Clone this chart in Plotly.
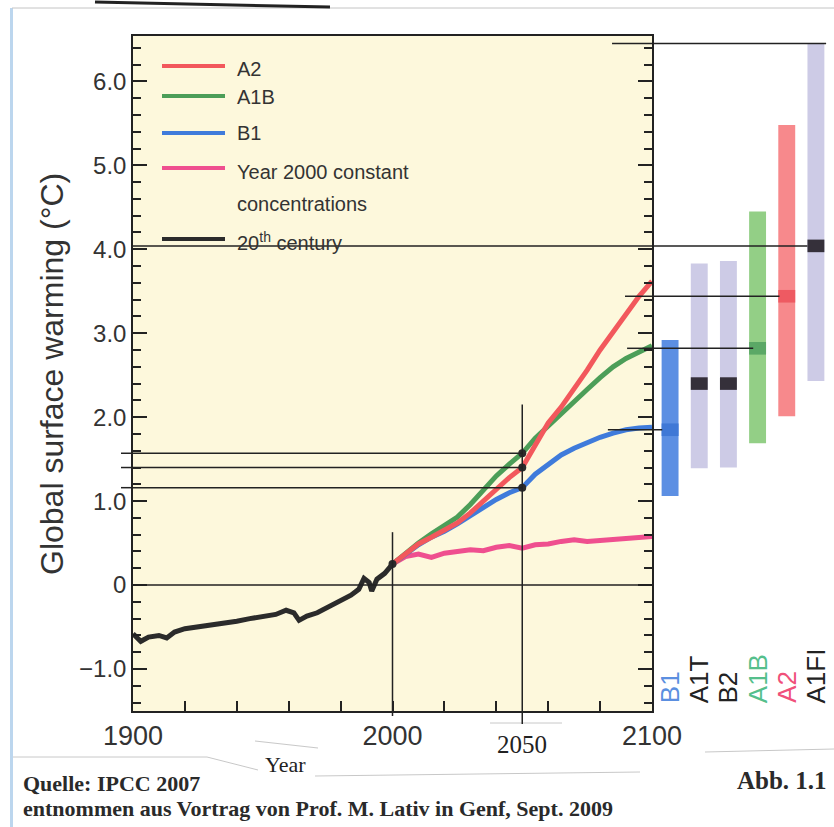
import plotly.graph_objects as go

# ---------------- data ----------------
years_20c = [1900, 1903, 1906, 1910, 1913, 1916, 1920, 1925, 1930, 1935, 1940, 1945,
             1950, 1955, 1959, 1962, 1964, 1967, 1971, 1975, 1978, 1981, 1984, 1987,
             1989, 1991, 1992, 1994, 1997, 2000]
temp_20c = [-0.58, -0.67, -0.62, -0.60, -0.63, -0.56, -0.52, -0.50, -0.47, -0.45, -0.43, -0.40,
            -0.37, -0.35, -0.30, -0.33, -0.42, -0.37, -0.33, -0.27, -0.22, -0.17, -0.12, -0.05,
            0.08, 0.03, -0.07, 0.07, 0.14, 0.25]

years_proj = [2000, 2005, 2010, 2015, 2020, 2025, 2030, 2035, 2040, 2045, 2050,
              2055, 2060, 2065, 2070, 2075, 2080, 2085, 2090, 2095, 2100]
a2 = [0.25, 0.37, 0.49, 0.57, 0.65, 0.74, 0.86, 1.00, 1.15, 1.28, 1.40,
      1.68, 1.93, 2.12, 2.33, 2.56, 2.80, 3.02, 3.24, 3.44, 3.62]
a1b = [0.25, 0.38, 0.50, 0.61, 0.71, 0.81, 0.96, 1.13, 1.30, 1.44, 1.57,
       1.75, 1.90, 2.05, 2.19, 2.33, 2.47, 2.60, 2.70, 2.78, 2.85]
b1 = [0.25, 0.37, 0.48, 0.57, 0.64, 0.73, 0.83, 0.92, 1.02, 1.10, 1.16,
      1.32, 1.44, 1.55, 1.63, 1.70, 1.76, 1.81, 1.85, 1.87, 1.88]
const2000 = [0.25, 0.34, 0.37, 0.33, 0.38, 0.40, 0.42, 0.41, 0.45, 0.47, 0.44,
             0.48, 0.49, 0.52, 0.54, 0.52, 0.53, 0.55, 0.56, 0.57, 0.58]

scenarios = ["B1", "A1T", "B2", "A1B", "A2", "A1FI"]
low = [1.06, 1.39, 1.40, 1.69, 2.01, 2.43]
best = [1.85, 2.40, 2.40, 2.82, 3.44, 4.04]
high = [2.92, 3.83, 3.86, 4.45, 5.48, 6.45]

y_tickvals = [-1, 0, 1, 2, 3, 4, 5, 6]
y_ticktext = ["\u22121.0", "0", "1.0", "2.0", "3.0", "4.0", "5.0", "6.0"]
x_tickvals = [1900, 2000, 2100]
x_ticktext = ["1900", "2000", "2100"]

# ---------------- layout helpers ----------------
W, H = 834, 827
PX_L, PX_R, PY_T, PY_B = 133, 652, 36, 711


def px(x):
    return x / W


def py(y):
    return 1 - y / H


SANS = "Liberation Sans, Arial, sans-serif"
SERIF = "Liberation Serif, Times New Roman, serif"

C_RED = "#f2585c"
C_GREEN = "#4c9e58"
C_BLUE = "#3f7bdb"
C_PINK = "#ef4f8f"
C_BLACK = "#2b2b2b"
CREAM = "#fdf8dc"

fig = go.Figure()

fig.add_trace(go.Scatter(x=years_proj, y=const2000, mode="lines",
                         line=dict(color=C_PINK, width=5), showlegend=False))
fig.add_trace(go.Scatter(x=years_proj, y=b1, mode="lines",
                         line=dict(color=C_BLUE, width=5), showlegend=False))
fig.add_trace(go.Scatter(x=years_proj, y=a1b, mode="lines",
                         line=dict(color=C_GREEN, width=5), showlegend=False))
fig.add_trace(go.Scatter(x=years_proj, y=a2, mode="lines",
                         line=dict(color=C_RED, width=5), showlegend=False))
fig.add_trace(go.Scatter(x=years_20c, y=temp_20c, mode="lines",
                         line=dict(color=C_BLACK, width=5), showlegend=False))

i2050 = years_proj.index(2050)
dot_x = [2000, 2050, 2050, 2050]
dot_y = [temp_20c[-1], a1b[i2050], a2[i2050], b1[i2050]]
fig.add_trace(go.Scatter(x=dot_x, y=dot_y, mode="markers",
                         marker=dict(color=C_BLACK, size=8), showlegend=False))

bar_colors = ["#5c8fe3", "#cdcbe6", "#cdcbe6", "#93cf86", "#f7898c", "#cdcbe6"]
mark_colors = ["#3f78d6", "#35303a", "#35303a", "#5ba866", "#ee5a62", "#35303a"]
fig.add_trace(go.Bar(x=scenarios, y=[h - l for h, l in zip(high, low)], base=low,
                     xaxis="x2", yaxis="y", width=0.58,
                     marker=dict(color=bar_colors, line=dict(width=0)), showlegend=False))
fig.add_trace(go.Bar(x=scenarios, y=[0.15] * len(best), base=[b - 0.075 for b in best],
                     xaxis="x2", yaxis="y", width=0.58,
                     marker=dict(color=mark_colors, line=dict(width=0)), showlegend=False))

shapes = []
shapes.append(dict(type="rect", xref="x domain", yref="y domain", x0=0, x1=1, y0=0, y1=1,
                   fillcolor=CREAM, line=dict(width=0), layer="below"))

LINE = dict(color="#222222", width=1.5)

shapes.append(dict(type="line", xref="x", yref="y", x0=1900, x1=2100, y0=0, y1=0, line=LINE))
shapes.append(dict(type="line", xref="x", yref="y", x0=2000, x1=2000, y0=-1.6, y1=0.63, line=LINE))
shapes.append(dict(type="line", xref="x", yref="y", x0=2050, x1=2050, y0=-1.6, y1=2.15, line=LINE))
shapes.append(dict(type="line", xref="x", yref="paper", x0=2050, x1=2050,
                   y0=py(PY_B), y1=py(PY_B + 13), line=LINE))
shapes.append(dict(type="line", xref="x", yref="paper", x0=2000, x1=2000,
                   y0=py(PY_B), y1=py(PY_B + 5), line=LINE))
for v in dot_y[1:]:
    shapes.append(dict(type="line", xref="x", yref="y", x0=1900, x1=2050, y0=v, y1=v, line=LINE))
    shapes.append(dict(type="line", xref="paper", yref="y", x0=px(PX_L - 12), x1=px(PX_L),
                       y0=v, y1=v, line=LINE))

conn = [  # (y value, start year, end index on bar axis)
    (best[5], 1900, 5 - 0.29),
    (high[5], 2084.6, 5.35),
    (best[4], 2089.6, 4 - 0.25),
    (best[3], 2090.4, 3 - 0.15),
    (best[0], 2083.0, -0.27),
]
for v, x0, x1 in conn:
    shapes.append(dict(type="line", xref="x", yref="y", x0=x0, x1=2100, y0=v, y1=v, line=LINE))
    shapes.append(dict(type="line", xref="x2", yref="y", x0=-0.62, x1=x1, y0=v, y1=v, line=LINE))

legend_items = [
    ("A2", C_RED, 66, 69),
    ("A1B", C_GREEN, 96, 97),
    ("B1", C_BLUE, 133, 133),
    ("Year 2000 constant", C_PINK, 168, 172),
    ("20<sup>th</sup> century", C_BLACK, 239, 242),
]
annotations = []
for label, col, ly, ty in legend_items:
    shapes.append(dict(type="line", xref="paper", yref="paper", x0=px(162), x1=px(225),
                       y0=py(ly), y1=py(ly), line=dict(color=col, width=4)))
    annotations.append(dict(text=label, xref="paper", yref="paper", x=px(235), y=py(ty),
                            xanchor="left", yanchor="middle", showarrow=False,
                            font=dict(family=SANS, size=20, color="#333333")))
annotations.append(dict(text="concentrations", xref="paper", yref="paper", x=px(235), y=py(204),
                        xanchor="left", yanchor="middle", showarrow=False,
                        font=dict(family=SANS, size=20, color="#333333")))

label_colors = ["#5b8fe0", "#222222", "#222222", "#55bf8c", "#f0507a", "#222222"]
for s, c in zip(scenarios, label_colors):
    annotations.append(dict(text=s, xref="x2", yref="y", x=s, y=-1.43, textangle=-90,
                            xanchor="center", yanchor="bottom", showarrow=False,
                            font=dict(family=SANS, size=26, color=c)))

annotations.append(dict(text="Global surface warming (\u00b0C)", xref="paper", yref="paper",
                        x=px(52), y=py(374), textangle=-90, showarrow=False,
                        xanchor="center", yanchor="middle",
                        font=dict(family=SANS, size=32, color="#333333")))

annotations.append(dict(text="2050", xref="x", yref="paper", x=2050, y=py(744),
                        xanchor="center", yanchor="middle", showarrow=False,
                        font=dict(family=SERIF, size=25, color="#222222")))
annotations.append(dict(text="Year", xref="paper", yref="paper", x=px(285), y=py(764),
                        xanchor="center", yanchor="middle", showarrow=False,
                        font=dict(family=SERIF, size=22, color="#222222")))
annotations.append(dict(text="<b>Quelle: IPCC 2007</b>", xref="paper", yref="paper",
                        x=px(21), y=py(783), xanchor="left", yanchor="middle", showarrow=False,
                        font=dict(family=SERIF, size=22, color="#2a2a2a")))
annotations.append(dict(text="<b>entnommen aus Vortrag von Prof. M. Lativ in Genf, Sept. 2009</b>",
                        xref="paper", yref="paper", x=px(21), y=py(808), xanchor="left",
                        yanchor="middle", showarrow=False,
                        font=dict(family=SERIF, size=22, color="#2a2a2a")))
annotations.append(dict(text="<b>Abb. 1.1</b>", xref="paper", yref="paper", x=px(782), y=py(780),
                        xanchor="center", yanchor="middle", showarrow=False,
                        font=dict(family=SERIF, size=25, color="#2a2a2a")))

shapes.append(dict(type="line", xref="paper", yref="paper", x0=px(11.5), x1=px(11.5),
                   y0=py(8), y1=0, line=dict(color="#bcd6ee", width=3), layer="below"))
shapes.append(dict(type="line", xref="paper", yref="paper", x0=px(12), x1=1,
                   y0=py(8), y1=py(8), line=dict(color="#c4c4c4", width=1), layer="below"))
shapes.append(dict(type="line", xref="paper", yref="paper", x0=px(95), x1=px(330),
                   y0=py(2), y1=py(7), line=dict(color="#222222", width=3)))
for (xa, ya, xb, yb) in [(13, 757, 207, 757), (207, 757, 258, 770), (255, 741, 318, 748),
                         (490, 723, 562, 723), (315, 776, 640, 772), (705, 752, 834, 749)]:
    shapes.append(dict(type="line", xref="paper", yref="paper", x0=px(xa), x1=px(xb),
                       y0=py(ya), y1=py(yb), line=dict(color="#c8c8c8", width=1), layer="below"))

fig.update_layout(
    width=W, height=H,
    margin=dict(l=0, r=0, t=0, b=0, autoexpand=False),
    paper_bgcolor="white",
    plot_bgcolor="white",
    barmode="overlay",
    showlegend=False,
    shapes=shapes,
    annotations=annotations,
    xaxis=dict(domain=[px(PX_L), px(PX_R)], range=[1900, 2100], anchor="y",
               tickmode="array", tickvals=x_tickvals, ticktext=x_ticktext,
               ticks="inside", ticklen=10, tickwidth=1.5, tickcolor="#222",
               minor=dict(tickmode="linear", tick0=1900, dtick=20, ticks="inside",
                          ticklen=10, tickwidth=1.5, tickcolor="#222"),
               showline=True, linecolor="#222", linewidth=1.5, mirror=True,
               showgrid=False, zeroline=False, automargin=False,
               tickfont=dict(family=SANS, size=27, color="#333333")),
    yaxis=dict(domain=[py(PY_B), py(PY_T)], range=[-1.5, 6.54], anchor="x",
               tickmode="array", tickvals=y_tickvals, ticktext=y_ticktext,
               ticks="inside", ticklen=14, tickwidth=1.5, tickcolor="#222",
               minor=dict(tickmode="linear", tick0=0, dtick=0.2, ticks="inside",
                          ticklen=8, tickwidth=1.5, tickcolor="#222"),
               showline=True, linecolor="#222", linewidth=1.5, mirror="ticks",
               showgrid=False, zeroline=False, automargin=False,
               tickfont=dict(family=SANS, size=24, color="#333333")),
    xaxis2=dict(domain=[px(PX_R), 1], anchor="y", type="category",
                categoryorder="array", categoryarray=scenarios, automargin=False,
                range=[-0.62, 5.62], visible=False, showgrid=False),
)

fig.write_html("out.html", config={"displayModeBar": False},
               post_script="document.body.style.margin='0px';")
